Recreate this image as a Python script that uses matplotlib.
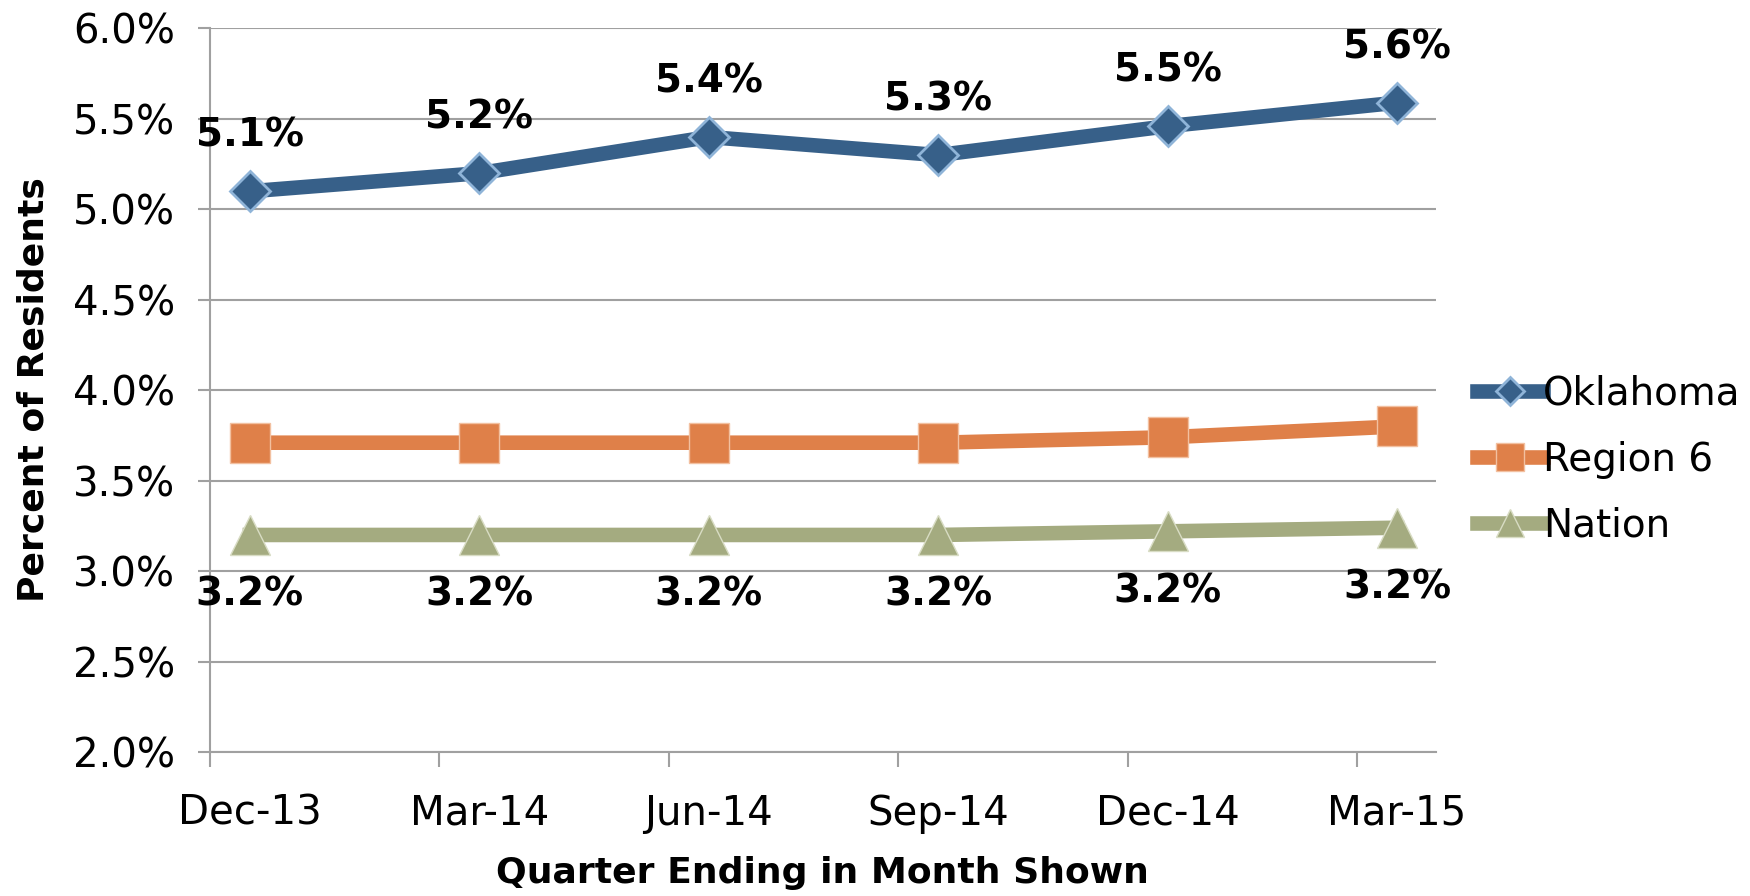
import matplotlib
matplotlib.use("Agg")
import matplotlib.pyplot as plt
from matplotlib.ticker import FuncFormatter, FixedLocator

# data
quarters = ["Dec-13", "Mar-14", "Jun-14", "Sep-14", "Dec-14", "Mar-15"]
oklahoma = [5.10, 5.20, 5.40, 5.30, 5.46, 5.59]
region6 = [3.71, 3.71, 3.71, 3.71, 3.74, 3.80]
nation = [3.20, 3.20, 3.20, 3.20, 3.22, 3.24]
ok_labels = ["5.1%", "5.2%", "5.4%", "5.3%", "5.5%", "5.6%"]
nation_labels = ["3.2%", "3.2%", "3.2%", "3.2%", "3.2%", "3.2%"]

C_OK = "#376089"
C_R6 = "#DF8049"
C_NAT = "#A4AB80"
GRID = "#a0a0a0"

plt.rcParams["font.family"] = ["DejaVu Sans"]

fig = plt.figure(figsize=(17.5, 8.96), dpi=100)
ax = fig.add_axes([0.12, 0.1607, 0.7006, 0.8075])

x = list(range(len(quarters)))
lw = 10.5
ax.plot(x, oklahoma, color=C_OK, lw=lw, marker="D", ms=20,
        mfc=C_OK, mec="#8fb4d8", mew=2, label="Oklahoma", zorder=4)
ax.plot(x, region6, color=C_R6, lw=lw, marker="s", ms=29,
        mfc=C_R6, mec="#f2c0a0", mew=1, label="Region 6", zorder=3)
ax.plot(x, nation, color=C_NAT, lw=lw, marker="^", ms=29,
        mfc=C_NAT, mec="#d8dcc4", mew=1, label="Nation", zorder=3)

for xi, v, t in zip(x, oklahoma, ok_labels):
    ax.annotate(t, (xi, v), xytext=(0, 40), textcoords="offset points",
                ha="center", va="center", fontsize=28, fontweight="bold")
for xi, v, t in zip(x, nation, nation_labels):
    ax.annotate(t, (xi, v), xytext=(0, -43), textcoords="offset points",
                ha="center", va="center", fontsize=28, fontweight="bold")

ax.set_xlim(-0.174, 5.17)
ax.set_ylim(2.0, 6.0)
ax.set_yticks([2.0 + 0.5 * i for i in range(9)])
ax.yaxis.set_major_formatter(FuncFormatter(lambda v, p: f"{v:.1f}%"))
ax.grid(axis="y", color=GRID, lw=1.5, zorder=0)
ax.set_axisbelow(True)

ax.set_xticks(x)
ax.set_xticklabels(quarters)
ax.xaxis.set_minor_locator(FixedLocator([i - 0.174 for i in x]))
ax.tick_params(axis="x", which="major", length=0, pad=30, labelsize=29)
ax.tick_params(axis="x", which="minor", length=11, width=1.5, color=GRID)
ax.tick_params(axis="y", length=9, width=1.5, color=GRID, pad=16, labelsize=29)

for s in ["top", "right"]:
    ax.spines[s].set_visible(False)
for s in ["left", "bottom"]:
    ax.spines[s].set_color(GRID)
    ax.spines[s].set_linewidth(1.5)

fig.text(0.019, 0.565, "Percent of Residents", rotation=90, ha="center", va="center",
         fontsize=26, fontweight="bold")
fig.text(0.47, 0.026, "Quarter Ending in Month Shown", ha="center", va="center",
         fontsize=26, fontweight="bold")

leg = ax.legend(loc="center left", bbox_to_anchor=(0.824, 0.487),
                bbox_transform=fig.transFigure, frameon=False, fontsize=28,
                handlelength=1.7, handletextpad=0.0, labelspacing=0.72,
                markerscale=0.7)

fig.savefig("out.png", dpi=100)
